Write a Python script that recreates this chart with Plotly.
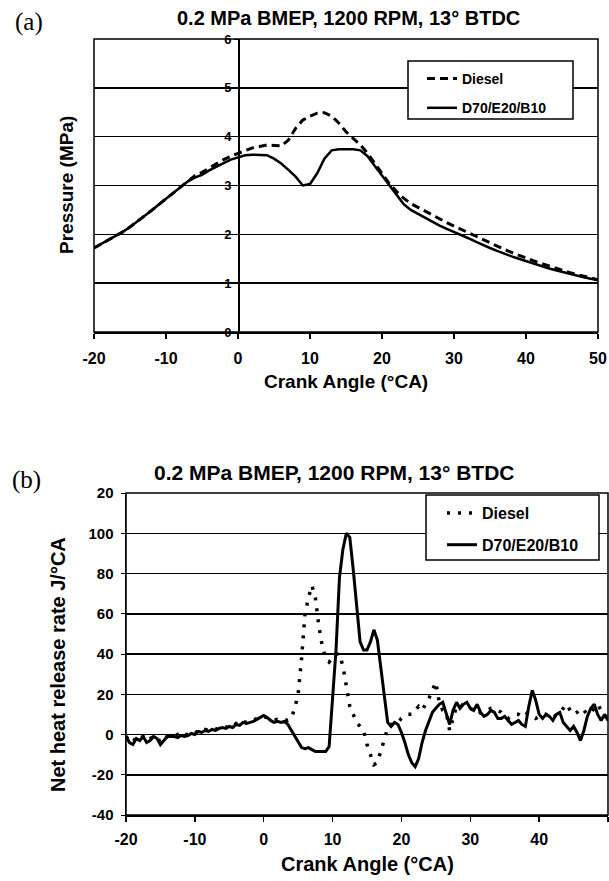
import plotly.graph_objects as go

# ---------------- data: panel (a) cylinder pressure ----------------
crank_a = list(range(-20, 51))
diesel_p = [1.72, 1.80, 1.89, 1.97, 2.05, 2.15, 2.26, 2.37, 2.49, 2.61,
            2.73, 2.85, 2.97, 3.08, 3.20, 3.27, 3.36, 3.45, 3.53, 3.60,
            3.66, 3.72, 3.77, 3.80, 3.83, 3.82, 3.81, 3.93, 4.17, 4.34,
            4.42, 4.48, 4.49, 4.42, 4.28, 4.10, 3.96, 3.83, 3.66, 3.45,
            3.24, 3.04, 2.88, 2.74, 2.63, 2.55, 2.47, 2.39, 2.31, 2.24,
            2.17, 2.10, 2.03, 1.96, 1.89, 1.82, 1.76, 1.69, 1.63, 1.57,
            1.52, 1.46, 1.41, 1.36, 1.31, 1.27, 1.22, 1.18, 1.14, 1.10, 1.07]
blend_p = [1.72, 1.80, 1.89, 1.97, 2.05, 2.15, 2.26, 2.37, 2.49, 2.61,
           2.73, 2.85, 2.97, 3.08, 3.16, 3.22, 3.31, 3.39, 3.46, 3.53,
           3.58, 3.62, 3.63, 3.63, 3.62, 3.55, 3.45, 3.32, 3.18, 3.00,
           3.03, 3.25, 3.55, 3.72, 3.74, 3.74, 3.74, 3.72, 3.60, 3.40,
           3.20, 3.00, 2.80, 2.62, 2.50, 2.42, 2.33, 2.25, 2.18, 2.11,
           2.05, 1.99, 1.92, 1.85, 1.78, 1.72, 1.66, 1.60, 1.55, 1.50,
           1.45, 1.40, 1.35, 1.31, 1.27, 1.23, 1.19, 1.16, 1.12, 1.09, 1.06]

# ---------------- data: panel (b) net heat release rate ----------------
crank_b = [x / 2 for x in range(-40, 101)]
diesel_hrr = [-1, -3, -4, -1, -2, -1, -3, -2, -1, -1,
              -4, -2, -1, -0.5, -1, 0, -1, 0, 0, 1,
              0.5, 2, 1.5, 2.5, 2, 3, 2.5, 3.5, 4, 3.5,
              4.5, 4, 5.5, 5, 6.5, 6, 6.5, 7, 8, 9,
              9, 8, 7.5, 7, 7.5, 7, 7.5, 7, 8, 13,
              20, 38, 60, 68, 74, 68, 54, 44, 38, 36,
              38, 40, 40, 34, 24, 14, 10, 6, 4, 2,
              -5, -10, -15, -14, -8, -2, 3, 5, 5, 6,
              8, 9, 10, 10, 12, 14, 12, 15, 18, 22,
              26, 16, 12, 11, 2, 8, 14, 15, 14, 13,
              13, 12, 10, 11, 12, 12, 13, 13, 12, 11,
              9, 8, 9, 10, 10, 9, 11, 10, 9, 8,
              9, 10, 10, 9, 8, 10, 11, 13, 15, 12,
              10, 11, 13, 12, 10, 11, 13, 15, 12, 9, 10]
blend_hrr = [-1, -4, -5, -2, -3, -1, -4, -3, -1, -2,
             -5, -3, -1, -1, -1, -1.5, -0.5, -1, -0.5, 0.5,
             0, 1.5, 1, 2, 1.5, 2.5, 2, 3, 3.5, 3,
             4, 3.5, 5, 4.5, 6, 5.5, 6, 6.5, 7.5, 8.5,
             9.5, 8.5, 7, 6, 6.5, 6, 6.5, 5, 2, -1,
             -4, -6.5, -7, -6.5, -7.5, -8.5, -8.5, -8.5, -8.5, -6,
             20, 42, 78, 92, 100, 98, 82, 62, 46, 42,
             42, 46, 52, 47, 33, 18, 6, 4, 6, 5,
             1, -4, -10, -14, -16, -12, -4, 2, 7, 11,
             13, 15, 16, 10, 5, 12, 16, 13, 15, 16,
             13, 12, 15, 11, 9, 10, 12, 11, 8, 8,
             9, 7, 5, 6, 7, 5, 4, 14, 22, 17,
             10, 8, 10, 9, 7, 10, 11, 6, 4, 2,
             4, 1, -3, 2, 9, 13, 15, 10, 7, 10, 7]

x_ticks = [-20, -10, 0, 10, 20, 30, 40, 50]
x_ticktext = ["-20", "-10", "0", "10", "20", "30", "40", "50"]
y_ticks_a = [0, 1, 2, 3, 4, 5, 6]
y_ticks_b = [-40, -20, 0, 20, 40, 60, 80, 100, 120]
y_ticktext_b = ["-40", "-20", "0", "20", "40", "60", "80", "100", "20"]

title_text = "0.2 MPa BMEP, 1200 RPM, 13° BTDC"

# ---------------- figure ----------------
W, H = 609, 881
FONT = "Liberation Sans, Arial, sans-serif"


def px(x):
    return x / W


def py(y):
    return 1 - y / H


fig = go.Figure()

fig.add_trace(go.Scatter(x=crank_a, y=diesel_p, mode="lines", name="Diesel",
                         line=dict(color="black", width=3, dash="8px,5px"),
                         xaxis="x", yaxis="y", legend="legend", legendgroup="a1"))
fig.add_trace(go.Scatter(x=crank_a, y=blend_p, mode="lines", name="D70/E20/B10",
                         line=dict(color="black", width=2.5),
                         xaxis="x", yaxis="y", legend="legend", legendgroup="a2"))
fig.add_trace(go.Scatter(x=crank_b, y=diesel_hrr, mode="lines", name="Diesel",
                         line=dict(color="black", width=3.5, dash="3px,8px"),
                         xaxis="x2", yaxis="y2", legend="legend2", legendgroup="b1"))
fig.add_trace(go.Scatter(x=crank_b, y=blend_hrr, mode="lines", name="D70/E20/B10",
                         line=dict(color="black", width=3),
                         xaxis="x2", yaxis="y2", legend="legend2", legendgroup="b2"))

tickfont_x = dict(family=FONT, size=16, color="black", weight="bold")

fig.update_layout(
    template="none",
    width=W, height=H, autosize=False,
    margin=dict(l=0, r=0, t=0, b=0, pad=0),
    paper_bgcolor="white", plot_bgcolor="white",
    showlegend=True,
    xaxis=dict(domain=[px(94), px(598)], range=[-20, 50], tickvals=x_ticks,
               ticktext=x_ticktext, automargin=False,
               anchor="y", showgrid=False, zeroline=False, showline=True,
               linecolor="black", linewidth=1.5, ticks="outside", ticklen=5,
               tickcolor="black", tickwidth=1.5, tickfont=tickfont_x,
               ticklabelstandoff=6),
    yaxis=dict(domain=[py(332), py(39)], range=[0, 6], tickvals=y_ticks_a,
               anchor="free", position=px(238), showgrid=True, automargin=False,
               gridcolor="black", gridwidth=1.5, zeroline=False, showline=True,
               linecolor="black", linewidth=1.5, ticks="outside", ticklen=4,
               tickcolor="black", tickfont=dict(family=FONT, size=13, color="black", weight="bold"),
               ticklabelstandoff=0),
    xaxis2=dict(domain=[px(126), px(608)], range=[-20, 50], tickvals=x_ticks,
                ticktext=x_ticktext, automargin=False,
                anchor="y2", showgrid=False, zeroline=False, showline=True,
                linecolor="black", linewidth=1.5, ticks="outside", ticklen=5,
                tickcolor="black", tickwidth=1.5, tickfont=tickfont_x,
                ticklabelstandoff=4),
    yaxis2=dict(domain=[py(815), py(493)], range=[-40, 120], tickvals=y_ticks_b,
                ticktext=y_ticktext_b, anchor="x2", showgrid=True, automargin=False,
                gridcolor="black", gridwidth=1.5, zeroline=False, showline=True,
                linecolor="black", linewidth=1.5, ticks="outside", ticklen=4,
                tickcolor="black", tickfont=dict(family=FONT, size=15, color="black", weight="bold"),
                ticklabelstandoff=4),
    legend=dict(x=px(422), y=py(63), xanchor="left", yanchor="top",
                bgcolor="rgba(0,0,0,0)", borderwidth=0, tracegroupgap=8,
                font=dict(family=FONT, size=14, color="black", weight="bold")),
    legend2=dict(x=px(442), y=py(496), xanchor="left", yanchor="top",
                 bgcolor="rgba(0,0,0,0)", borderwidth=0, tracegroupgap=8,
                 font=dict(family=FONT, size=16, color="black", weight="bold")),
    shapes=[
        dict(type="rect", xref="x domain", yref="y domain", x0=0, x1=1, y0=0, y1=1,
             line=dict(color="black", width=1.5), layer="above"),
        dict(type="rect", xref="x2 domain", yref="y2 domain", x0=0, x1=1, y0=0, y1=1,
             line=dict(color="black", width=1.5), layer="above"),
        dict(type="rect", xref="paper", yref="paper", x0=px(408), x1=px(573),
             y0=py(119), y1=py(61), fillcolor="white",
             line=dict(color="black", width=1.5), layer="above"),
        dict(type="rect", xref="paper", yref="paper", x0=px(426), x1=px(599),
             y0=py(560), y1=py(495), fillcolor="white",
             line=dict(color="black", width=1.5), layer="above"),
    ],
)

ann_font = dict(family=FONT, color="black", weight="bold")
annotations = [
    dict(text=title_text, x=px(348), y=py(18), font=dict(size=20, **ann_font)),
    dict(text=title_text, x=px(334), y=py(472), font=dict(size=21, **ann_font)),
    dict(text="Crank Angle (°CA)", x=px(346), y=py(382), font=dict(size=19, **ann_font)),
    dict(text="Crank Angle (°CA)", x=px(367), y=py(864), font=dict(size=20, **ann_font)),
    dict(text="Pressure (MPa)", x=px(66), y=py(185), textangle=-90,
         font=dict(size=19, **ann_font)),
    dict(text="Net heat release rate J/°CA", x=px(58), y=py(665), textangle=-90,
         font=dict(size=20, **ann_font)),
    dict(text="(a)", x=px(29), y=py(22),
         font=dict(family="Liberation Serif, Times New Roman, serif", size=25, color="black")),
    dict(text="(b)", x=px(26), y=py(480),
         font=dict(family="Liberation Serif, Times New Roman, serif", size=25, color="black")),
]
for a in annotations:
    a.update(xref="paper", yref="paper", showarrow=False, xanchor="center", yanchor="middle")
fig.update_layout(annotations=annotations)

page_fix = ("document.body.style.margin='0';"
            "document.body.style.overflow='hidden';"
            "document.documentElement.style.overflow='hidden';")
fig.write_html("out.html", post_script=page_fix,
               config={"displayModeBar": False, "staticPlot": True})
